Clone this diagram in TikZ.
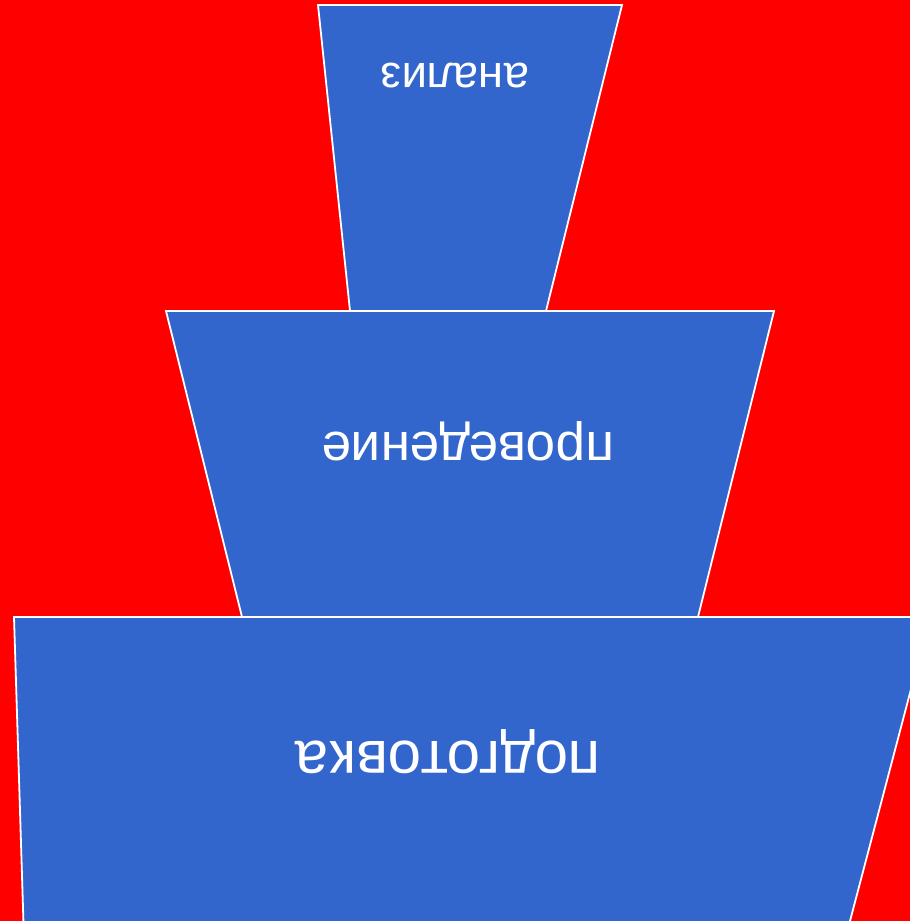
\documentclass[tikz,border=0pt]{standalone}
\usepackage{fontspec}
\setmainfont{Liberation Sans}
\usetikzlibrary{positioning}
\definecolor{stageblue}{HTML}{3366CC}
\definecolor{stagered}{HTML}{FF0000}

\begin{document}
\begin{tikzpicture}[x=1pt,y=-1pt,
  tier/.style={draw=white,fill=stageblue,line width=1.8pt,line join=miter},
  lbl/.style={text=white,rotate=180,anchor=base,inner sep=0pt}
]
\fill[stagered] (0,0) rectangle (910,921);
\useasboundingbox (0,0) rectangle (910,921);
\clip (0,0) rectangle (910,921);

% stages, widest at the bottom
\draw[tier] (318,5) -- (622,5) -- (546,311) -- (350,311) -- cycle;
\draw[tier] (166,311) -- (774,311) -- (698,617) -- (242,617) -- cycle;
\draw[tier] (14,617) -- (930,617) -- (845,940) -- (24,940) -- cycle;

\node[lbl,font=\fontsize{45.5}{50}\selectfont] (analiz) at (455,63) {анализ};
\node[lbl,font=\fontsize{53}{58}\selectfont] (provedenie) at (468,432) {проведение};
\node[lbl,font=\fontsize{60}{66}\selectfont] (podgotovka) at (448,741) {подготовка};
\end{tikzpicture}
\end{document}
